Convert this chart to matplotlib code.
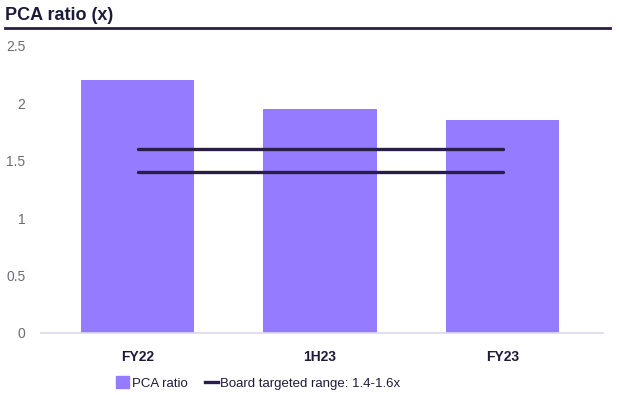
import matplotlib.pyplot as plt
from matplotlib.lines import Line2D

categories = ["FY22", "1H23", "FY23"]
pca_ratio = [2.2, 1.95, 1.85]
target_low = [1.4, 1.4, 1.4]
target_high = [1.6, 1.6, 1.6]
y_ticks = [0, 0.5, 1, 1.5, 2, 2.5]
y_tick_labels = ["0", "0.5", "1", "1.5", "2", "2.5"]

BAR_COLOR = "#957BFF"
LINE_COLOR = "#2A1D4A"
TEXT_DARK = "#1E1A3A"

plt.rcParams["font.family"] = ["Liberation Sans", "DejaVu Sans"]

fig = plt.figure(figsize=(6.19, 3.95), dpi=100)
ax = fig.add_axes([0.066, 0.157, 0.908, 0.727])

x = list(range(len(categories)))
ax.bar(x, pca_ratio, width=0.62, color=BAR_COLOR, zorder=2)
ax.plot(x, target_high, color=LINE_COLOR, linewidth=2.4, solid_capstyle="round", zorder=3)
ax.plot(x, target_low, color=LINE_COLOR, linewidth=2.4, solid_capstyle="round", zorder=3)

ax.set_xlim(-0.53, 2.55)
ax.set_ylim(0, 2.5)
ax.set_yticks(y_ticks)
ax.set_yticklabels(y_tick_labels)
ax.set_xticks(x)
ax.set_xticklabels(categories, fontweight="bold")

for side in ["top", "right", "left"]:
    ax.spines[side].set_visible(False)
ax.spines["bottom"].set_color("#DCD7F0")
ax.spines["bottom"].set_linewidth(1.2)
ax.tick_params(axis="both", length=0)
ax.tick_params(axis="y", labelsize=10, labelcolor="#6A6A7A", pad=11)
ax.tick_params(axis="x", labelsize=10, labelcolor=TEXT_DARK, pad=12)

# title and rule
fig.text(0.008, 0.962, "PCA ratio (x)", fontsize=13, fontweight="bold",
         color=TEXT_DARK, va="center", ha="left")
fig.add_artist(Line2D([0.008, 0.985], [0.928, 0.928], color=LINE_COLOR,
                      linewidth=2.0, transform=fig.transFigure))

handles = [
    plt.Rectangle((0, 0), 1, 1, color=BAR_COLOR),
    Line2D([0], [0], color=LINE_COLOR, linewidth=2.4),
]
fig.legend(handles, ["PCA ratio", "Board targeted range: 1.4-1.6x"],
           loc="center", bbox_to_anchor=(0.417, 0.03), ncol=2, frameon=False,
           fontsize=9.5, handlelength=1.0, handleheight=1.0, handletextpad=0.2,
           columnspacing=1.3, labelcolor=TEXT_DARK)

fig.savefig("out.png", dpi=100)
